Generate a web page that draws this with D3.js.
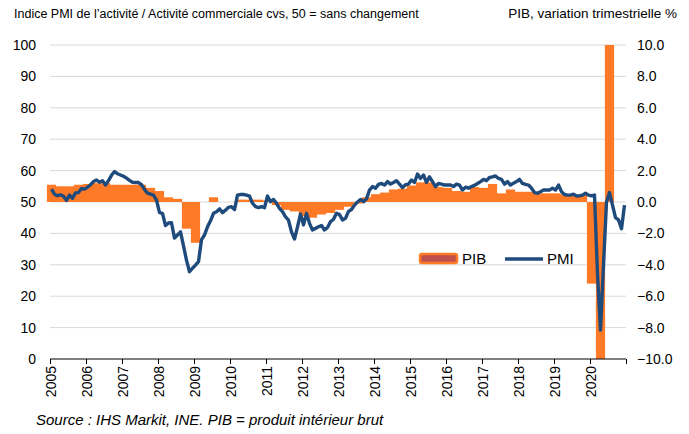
<!DOCTYPE html>
<html>
<head>
<meta charset="utf-8">
<script src="https://cdn.jsdelivr.net/npm/d3@7"></script>
<style>
  body { margin: 0; background: #fff; }
  text { font-family: "Liberation Sans", Arial, sans-serif; fill: #000; }
</style>
</head>
<body>
<script>
/* PMI composite, monthly, Jan 2005 - Dec 2020 (one row per year) */
var pmi = [
  54.1, 52.5, 52.0, 52.3, 51.8, 50.5, 52.2, 51.2, 52.9, 53.0, 54.3, 54.1,
  54.7, 55.5, 56.5, 57.0, 56.3, 56.8, 55.4, 56.8, 58.5, 59.7, 59.0, 58.6,
  58.2, 57.6, 56.9, 56.3, 56.2, 56.2, 55.5, 54.0, 52.8, 52.5, 52.2, 50.6,
  46.6, 46.4, 42.5, 43.3, 43.4, 38.5, 39.5, 40.5, 36.0, 31.5, 27.8, 28.9,
  29.9, 31.0, 38.0, 39.5, 42.1, 44.0, 46.4, 46.9, 47.8, 46.6, 47.4, 48.3,
  48.5, 47.6, 52.2, 52.4, 52.4, 52.2, 51.9, 49.6, 48.5, 48.2, 48.5, 48.2,
  51.9, 50.1, 50.8, 49.6, 48.0, 46.9, 45.3, 44.2, 40.5, 38.2, 42.1, 46.2,
  42.7, 46.4, 43.2, 41.1, 41.6, 42.1, 42.5, 41.1, 41.9, 43.7, 44.5, 46.4,
  46.0, 44.3, 44.8, 47.0, 47.6, 49.0, 50.0, 50.8, 50.1, 51.0, 53.8, 54.9,
  54.4, 55.6, 55.9, 55.4, 56.5, 55.7, 56.2, 56.8, 55.7, 54.6, 55.5, 55.7,
  57.0, 56.2, 58.9, 57.5, 58.6, 56.2, 58.0, 56.5, 54.9, 55.9, 55.7, 55.4,
  55.4, 55.4, 54.9, 55.7, 55.4, 53.8, 54.7, 54.4, 54.9, 55.3, 55.9, 56.5,
  57.2, 56.8, 57.8, 58.0, 58.3, 57.5, 57.2, 55.7, 56.5, 55.4, 56.0, 56.5,
  57.2, 55.9, 55.6, 55.4, 54.4, 53.0, 52.8, 53.3, 53.8, 53.8, 53.8, 54.4,
  53.8, 55.4, 53.3, 52.4, 52.2, 52.2, 52.5, 51.9, 52.0, 52.2, 52.8, 52.2,
  52.0, 52.2, 27.0, 9.2, 30.0, 50.0, 53.0, 49.0, 45.0, 44.3, 41.5, 49.0
];

/* PIB, variation trimestrielle %, 2005 T1 - 2020 T3 */
var pib = [
  1.1, 1.0, 1.0, 1.1,
  1.15, 1.2, 1.2, 1.1,
  1.1, 1.1, 1.1, 0.9,
  0.7, 0.3, 0.2, -1.7,
  -2.6, 0.0, 0.3, 0.0,
  0.0, 0.15, 0.15, 0.15,
  0.1, -0.2, -0.5, -0.6,
  -0.9, -1.0, -0.8, -0.7,
  -0.5, -0.3, -0.1, 0.3,
  0.5, 0.6, 0.8, 0.85,
  1.05, 1.25, 1.25, 0.95,
  0.9, 0.7, 0.65, 0.95,
  0.9, 1.15, 0.55, 0.8,
  0.65, 0.65, 0.55, 0.55,
  0.55, 0.5, 0.45, 0.45,
  -5.2, -17.8, 16.4
];

var years = d3.range(2005, 2021);
var leftTicks = d3.range(0, 101, 10);
var rightTicks = d3.range(-10, 10.1, 2);

var width = 689, height = 434;
var plotLeft = 50, plotRight = 626, plotTop = 45, plotBottom = 359;

var svg = d3.select("body").append("svg")
    .attr("width", width)
    .attr("height", height);

var x = d3.scaleLinear().domain([0, pmi.length]).range([plotLeft, plotRight]);
var y = d3.scaleLinear().domain([0, 100]).range([plotBottom, plotTop]);
var yR = d3.scaleLinear().domain([-10, 10]).range([plotBottom, plotTop]).clamp(true);

/* gridlines */
svg.append("g")
    .selectAll("line")
    .data(leftTicks.filter(function(d) { return d > 0 }))
    .enter().append("line")
    .attr("x1", plotLeft).attr("x2", plotRight)
    .attr("y1", function(d) { return y(d) })
    .attr("y2", function(d) { return y(d) })
    .attr("stroke", "#d9d9d9")
    .attr("stroke-width", 1);

/* PIB bars, one per quarter, spanning the quarter */
svg.append("g")
    .selectAll("rect")
    .data(pib)
    .enter().append("rect")
    .attr("x", function(d, i) { return x(i * 3 + 0.5) - 4.6 })
    .attr("width", 9.2)
    .attr("y", function(d) { return Math.min(yR(d), yR(0)) })
    .attr("height", function(d) { return Math.abs(yR(d) - yR(0)) })
    .attr("fill", "#ff7a27");

/* PMI line */
var line = d3.line()
    .x(function(d, i) { return x(i + 0.5) })
    .y(function(d) { return y(d) });

svg.append("path")
    .datum(pmi)
    .attr("d", line)
    .attr("fill", "none")
    .attr("stroke", "#1f4a7c")
    .attr("stroke-width", 3.4)
    .attr("stroke-linejoin", "round");

/* left axis labels */
svg.append("g")
    .selectAll("text")
    .data(leftTicks)
    .enter().append("text")
    .attr("x", 36)
    .attr("y", function(d) { return y(d) })
    .attr("dy", "0.35em")
    .attr("text-anchor", "end")
    .style("font-size", "14px")
    .text(function(d) { return d });

/* right axis labels */
svg.append("g")
    .selectAll("text")
    .data(rightTicks)
    .enter().append("text")
    .attr("x", 637)
    .attr("y", function(d) { return yR(d) })
    .attr("dy", "0.35em")
    .style("font-size", "14px")
    .text(function(d) { return d3.format(".1f")(d) });

/* x axis */
var xAxis = d3.axisBottom(x)
    .tickValues(d3.range(0, pmi.length + 1, 12))
    .tickSize(5)
    .tickFormat("");

svg.append("g")
    .attr("transform", "translate(0," + plotBottom + ")")
    .call(xAxis)
    .call(function(g) {
        g.select(".domain").attr("stroke", "#000").attr("d", "M" + plotLeft + ",0H" + plotRight);
        g.selectAll(".tick line").attr("stroke", "#000");
    });

svg.append("g")
    .selectAll("text")
    .data(years)
    .enter().append("text")
    .attr("transform", function(d) {
        return "translate(" + (x((d - 2005) * 12) + 1) + ",366) rotate(-90)";
    })
    .attr("dy", "0.35em")
    .attr("text-anchor", "end")
    .style("font-size", "14px")
    .text(function(d) { return d });

/* titles */
svg.append("text")
    .attr("x", 14).attr("y", 18)
    .style("font-size", "12.5px")
    .text("Indice PMI de l’activité / Activité commerciale cvs, 50 = sans changement");

svg.append("text")
    .attr("x", 677).attr("y", 18)
    .attr("text-anchor", "end")
    .style("font-size", "13.5px")
    .text("PIB, variation trimestrielle %");

/* source */
svg.append("text")
    .attr("x", 36).attr("y", 425)
    .style("font-size", "15px")
    .style("font-style", "italic")
    .text("Source : IHS Markit, INE. PIB = produit intérieur brut");

/* legend */
var legend = svg.append("g");
legend.append("rect")
    .attr("x", 420).attr("y", 254)
    .attr("width", 37).attr("height", 9)
    .attr("rx", 2)
    .attr("fill", "#c0504d")
    .attr("stroke", "#ff7a27")
    .attr("stroke-width", 2.5);
legend.append("text")
    .attr("x", 462).attr("y", 259)
    .attr("dy", "0.35em")
    .style("font-size", "15px")
    .text("PIB");
legend.append("line")
    .attr("x1", 505).attr("x2", 543)
    .attr("y1", 259).attr("y2", 259)
    .attr("stroke", "#1f4a7c")
    .attr("stroke-width", 3.4);
legend.append("text")
    .attr("x", 547).attr("y", 259)
    .attr("dy", "0.35em")
    .style("font-size", "15px")
    .text("PMI");
</script>
</body>
</html>
